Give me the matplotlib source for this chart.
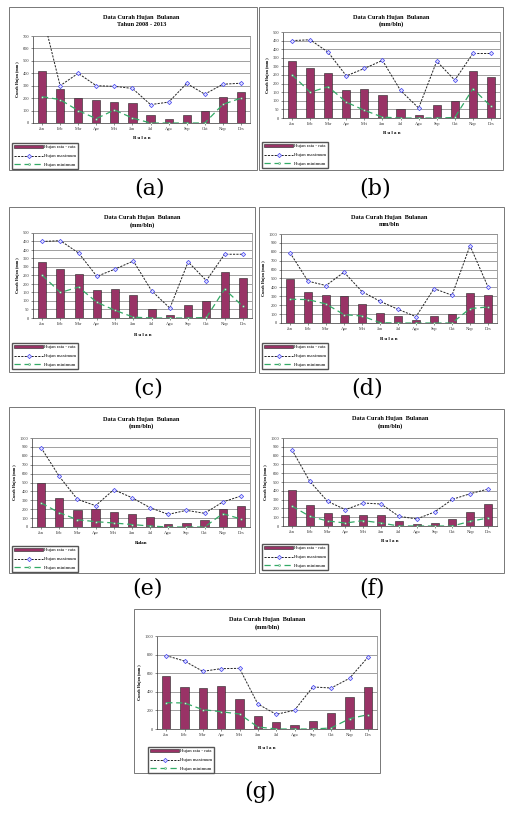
import matplotlib
matplotlib.use("Agg")
import matplotlib.pyplot as plt
from matplotlib.patches import Rectangle
import numpy as np

plt.rcParams['font.family'] = ['Liberation Serif', 'DejaVu Serif']

months = ["Jan", "Feb", "Mar", "Apr", "Mei", "Jun", "Jul", "Agu", "Sep", "Okt", "Nop", "Des"]
series_labels = ["Hujan rata - rata", "Hujan maximum", "Hujan minimum"]
title_main = "Data Curah Hujan  Bulanan"

# (a)
avg_a = [415, 272, 200, 185, 170, 160, 62, 35, 65, 97, 213, 248]
max_a = [890, 300, 400, 300, 295, 278, 148, 168, 318, 232, 312, 320]
min_a = [212, 188, 100, 35, 105, 40, 0, 0, 0, 0, 150, 200]
# (b) and (c)
avg_b = [332, 290, 260, 165, 168, 133, 55, 20, 77, 98, 272, 236]
max_b = [450, 455, 382, 245, 288, 335, 160, 58, 330, 220, 375, 375]
min_b = [252, 150, 182, 92, 45, 5, 0, 0, 0, 3, 170, 68]
# (d)
avg_d = [492, 350, 320, 300, 218, 113, 75, 30, 75, 98, 340, 312]
max_d = [790, 470, 421, 571, 353, 244, 154, 71, 387, 312, 868, 406]
min_d = [267, 263, 214, 94, 79, 4, 0, 0, 0, 0, 162, 180]
# (e)
avg_e = [494, 326, 195, 202, 169, 146, 109, 30, 49, 75, 202, 232]
max_e = [891, 569, 311, 240, 419, 330, 217, 142, 187, 154, 281, 348]
min_e = [270, 161, 82, 60, 45, 28, 11, 0, 0, 0, 150, 90]
# (f)
avg_f = [413, 235, 148, 125, 129, 125, 53, 19, 34, 83, 159, 246]
max_f = [867, 508, 280, 186, 261, 250, 110, 80, 159, 303, 367, 420]
min_f = [227, 110, 57, 34, 61, 34, 0, 0, 0, 0, 53, 91]
# (g)
avg_g = [573, 452, 437, 462, 323, 136, 75, 47, 86, 176, 348, 452]
max_g = [789, 731, 620, 649, 652, 269, 158, 201, 452, 441, 545, 771]
min_g = [283, 280, 208, 186, 161, 22, 0, 0, 0, 11, 111, 154]

W, H = 505, 813
fig = plt.figure(figsize=(W / 100, H / 100), dpi=100)

BAR = "#993366"
GRID = "#909090"


def fx(x):
    return x / W


def fy(y):
    return 1 - y / H


panels = [
    dict(box=(9, 7, 257, 170), plot=(33, 36, 250, 123), ty=(17, 24), by=138, leg=(12, 143),
         cap=(150, 189), ymax=700, step=100, sub="Tahun 2008 - 2013", bulan="B u l a n",
         avg=avg_a, mx=max_a, mn=min_a, label="(a)"),
    dict(box=(259, 7, 503, 170), plot=(283, 32, 500, 118), ty=(17, 24), by=133, leg=(262, 142),
         cap=(375, 189), ymax=500, step=50, sub="(mm/bln)", bulan="B u l a n",
         avg=avg_b, mx=max_b, mn=min_b, label="(b)"),
    dict(box=(9, 207, 255, 372), plot=(33, 233, 252, 318), ty=(217, 225), by=335, leg=(12, 343),
         cap=(148, 389), ymax=500, step=50, sub="(mm/bln)", bulan="B u l a n",
         avg=avg_b, mx=max_b, mn=min_b, label="(c)"),
    dict(box=(259, 207, 504, 373), plot=(281, 234, 497, 323), ty=(217, 224), by=339, leg=(262, 343),
         cap=(367, 389), ymax=1000, step=100, sub="mm/bln", bulan="B u l a n",
         avg=avg_d, mx=max_d, mn=min_d, label="(d)"),
    dict(box=(9, 407, 255, 573), plot=(32, 438, 250, 527), ty=(419, 426), by=543, leg=(12, 546),
         cap=(148, 589), ymax=1000, step=100, sub="(mm/bln)", bulan="Bulan",
         avg=avg_e, mx=max_e, mn=min_e, label="(e)"),
    dict(box=(259, 409, 504, 573), plot=(283, 438, 497, 526), ty=(418, 426), by=541, leg=(262, 544),
         cap=(372, 589), ymax=1000, step=100, sub="(mm/bln)", bulan="B u l a n",
         avg=avg_f, mx=max_f, mn=min_f, label="(f)"),
    dict(box=(134, 609, 380, 773), plot=(157, 636, 377, 729), ty=(619, 627), by=748, leg=(148, 747),
         cap=(260, 792), ymax=1000, step=200, sub="(mm/bln)", bulan="B u l a n",
         avg=avg_g, mx=max_g, mn=min_g, label="(g)"),
]

for p in panels:
    x0, y0, x1, y1 = p["box"]
    fig.patches.append(Rectangle((fx(x0), fy(y1)), fx(x1 - x0), (y1 - y0) / H,
                                 transform=fig.transFigure, fill=False,
                                 edgecolor="#777777", linewidth=0.7))
    px0, py0, px1, py1 = p["plot"]
    ax = fig.add_axes([fx(px0), fy(py1), fx(px1 - px0), (py1 - py0) / H])
    x = np.arange(len(months))
    bars = ax.bar(x, p["avg"], width=0.45, color=BAR, edgecolor="#222222", linewidth=0.4, zorder=2)
    lmax, = ax.plot(x, p["mx"], color="#222222", linestyle=(0, (2.2, 1.3)), linewidth=0.7,
                    marker="D", markersize=2.2, markerfacecolor="#DDDDFF",
                    markeredgecolor="#4444EE", markeredgewidth=0.5, zorder=3)
    lmin, = ax.plot(x, p["mn"], color="#33AA66", linestyle=(0, (5, 3)), linewidth=0.9,
                    marker="o", markersize=1.4, markerfacecolor="#CCEECC",
                    markeredgecolor="#339966", markeredgewidth=0.3, zorder=3)
    ax.set_xlim(-0.5, len(months) - 0.5)
    ax.set_ylim(0, p["ymax"])
    ax.set_yticks(np.arange(0, p["ymax"] + 1, p["step"]))
    ax.set_xticks(x)
    ax.set_xticklabels(months)
    ax.tick_params(axis="both", labelsize=3.2, length=1.2, width=0.4, pad=1.5, colors="#333333")
    ax.yaxis.grid(True, color=GRID, linewidth=0.6, zorder=0)
    ax.set_axisbelow(True)
    for s in ("top", "right"):
        ax.spines[s].set_color(GRID)
        ax.spines[s].set_linewidth(0.6)
    for s in ("left", "bottom"):
        ax.spines[s].set_color("#333333")
        ax.spines[s].set_linewidth(0.5)
    ax.set_ylabel("Curah Hujan (mm )", fontsize=3.1, fontweight="bold", labelpad=2)
    cx = (px0 + px1) / 2
    fig.text(fx(cx), fy(p["ty"][0]), title_main, ha="center", va="center",
             fontsize=4.5, fontweight="bold")
    fig.text(fx(cx), fy(p["ty"][1]), p["sub"], ha="center", va="center",
             fontsize=4.5, fontweight="bold")
    fig.text(fx(cx), fy(p["by"]), p["bulan"], ha="center", va="center",
             fontsize=3.5, fontweight="bold")
    fig.legend([bars, lmax, lmin], series_labels, loc="upper left",
               bbox_to_anchor=(fx(p["leg"][0]), fy(p["leg"][1])),
               bbox_transform=fig.transFigure, fontsize=3.4, frameon=True,
               fancybox=False, edgecolor="#555555", framealpha=1,
               borderpad=0.5, labelspacing=1.0, handlelength=6, handletextpad=0.2,
               handleheight=0.4, borderaxespad=0)
    fig.text(fx(p["cap"][0]), fy(p["cap"][1]), p["label"], ha="center", va="center",
             fontsize=16, family=["DejaVu Serif"])

fig.savefig("out.png", dpi=100)
